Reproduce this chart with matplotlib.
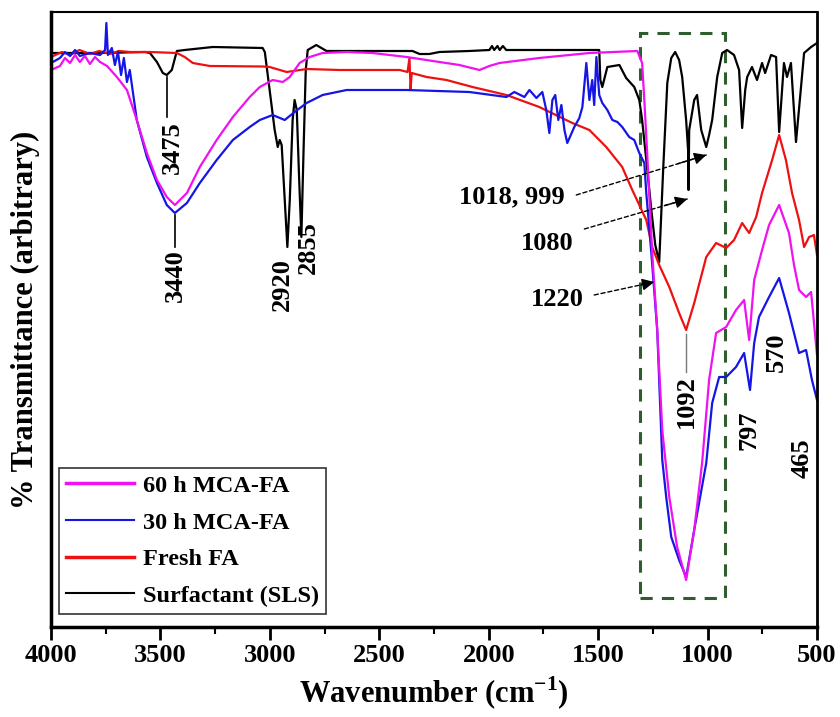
import matplotlib
matplotlib.use("Agg")
import matplotlib.pyplot as plt
from matplotlib.ticker import MultipleLocator
from matplotlib.patches import Rectangle

plt.rcParams['font.family'] = ['Liberation Serif', 'DejaVu Serif']
plt.rcParams['font.weight'] = 'bold'
plt.rcParams['mathtext.fontset'] = 'custom'
plt.rcParams['mathtext.rm'] = 'Liberation Serif:bold'
plt.rcParams['mathtext.bf'] = 'Liberation Serif:bold'

# ---------------- data (wavenumber cm-1, transmittance arbitrary) ----------------
sls_wn = [4000, 3776, 3571, 3548, 3516, 3489, 3471, 3448, 3425, 3389, 3261, 3033, 3023, 3001,
          2978, 2964, 2955, 2946, 2932, 2920, 2909, 2896, 2887, 2877, 2866, 2856, 2846, 2836,
          2827, 2788, 2741, 2348, 2316, 2271, 2225, 2089, 1997, 1985, 1975, 1960, 1950, 1935,
          1920, 1495, 1490, 1481, 1458, 1403, 1372, 1335, 1312, 1299, 1280, 1257, 1239, 1221,
          1203, 1184, 1166, 1148, 1130, 1116, 1098, 1089, 1087, 1084, 1061, 1048, 1029, 1006,
          993, 979, 956, 933, 911, 879, 856, 842, 828, 819, 797, 774, 751, 737, 710, 687, 673,
          651, 637, 619, 596, 573, 559, 527, 500]
sls_t = [61.7, 61.7, 61.8, 61.7, 60.8, 59.7, 59.5, 60.0, 61.9, 62.0, 62.3, 62.2, 61.8, 58.0,
         54.0, 52.3, 53.0, 52.5, 47.0, 42.3, 47.0, 55.0, 57.0, 56.0, 49.0, 43.3, 52.0, 60.0,
         62.0, 62.5, 61.9, 61.9, 61.6, 61.6, 61.8, 61.9, 62.0, 62.4, 62.0, 62.4, 62.0, 62.4,
         62.0, 62.0, 59.0, 58.3, 60.3, 60.5, 59.2, 58.3, 57.0, 55.0, 51.0, 46.0, 42.5, 40.8,
         50.0, 58.7, 61.2, 61.8, 61.0, 59.3, 55.0, 52.0, 48.0, 54.0, 57.0, 57.5, 54.0, 52.3,
         53.5, 55.0, 59.3, 61.7, 62.0, 61.5, 60.0, 54.2, 58.0, 59.3, 60.3, 59.0, 60.7, 59.7,
         61.5, 61.3, 53.8, 60.7, 59.3, 60.7, 52.8, 58.3, 61.7, 62.3, 62.7]

fa_wn = [4000, 3950, 3913, 3870, 3822, 3780, 3731, 3690, 3640, 3548, 3425, 3389, 3352, 3274,
         3033, 3001, 2923, 2832, 2681, 2407, 2371, 2362, 2357, 2352, 2284, 2193, 2074, 1919,
         1769, 1618, 1540, 1463, 1390, 1344, 1280, 1253, 1221, 1175, 1130, 1098, 1061, 1006,
         961, 915, 879, 842, 810, 778, 751, 705, 673, 642, 614, 582, 559, 536, 514, 500]
fa_t = [61.3, 61.8, 61.5, 62.0, 61.6, 61.9, 61.6, 61.9, 61.8, 61.8, 61.7, 61.3, 60.7, 60.4,
        60.35, 60.3, 59.8, 60.1, 60.0, 60.0, 59.8, 61.2, 58.0, 59.7, 59.3, 59.0, 58.3, 57.5,
        56.3, 54.7, 54.0, 52.3, 50.3, 48.0, 45.0, 42.3, 40.5, 38.3, 35.7, 34.0, 36.7, 41.3,
        42.7, 42.2, 43.0, 44.7, 43.7, 45.3, 47.7, 51.0, 53.5, 51.0, 47.7, 45.0, 42.3, 43.3,
        43.5, 41.5]

mca30_wn = [4000, 3959, 3936, 3913, 3890, 3868, 3822, 3776, 3753, 3747, 3740, 3722, 3708,
            3694, 3680, 3667, 3653, 3640, 3608, 3562, 3516, 3471, 3434, 3379, 3320, 3243,
            3169, 3092, 3046, 2987, 2932, 2887, 2832, 2759, 2649, 2375, 2089, 1919, 1883,
            1837, 1814, 1782, 1755, 1737, 1723, 1709, 1696, 1682, 1668, 1654, 1641, 1609,
            1586, 1572, 1554, 1540, 1527, 1518, 1508, 1495, 1481, 1458, 1435, 1412, 1390,
            1358, 1335, 1312, 1289, 1280, 1257, 1230, 1207, 1189, 1166, 1130, 1098, 1061,
            1006, 979, 947, 915, 870, 833, 806, 787, 765, 719, 673, 628, 582, 550, 523, 500]
mca30_t = [60.7, 61.2, 61.8, 61.4, 62.0, 61.4, 61.7, 61.5, 62.0, 64.7, 61.5, 62.2, 60.5,
           61.8, 59.5, 61.2, 58.8, 60.0, 55.0, 51.3, 48.7, 46.5, 45.7, 46.7, 48.7, 51.0,
           53.0, 54.3, 55.0, 55.5, 55.0, 55.8, 56.7, 57.5, 58.0, 58.0, 57.8, 57.3, 57.8,
           57.3, 58.0, 57.2, 57.8, 56.0, 53.7, 57.0, 57.5, 55.0, 56.5, 54.0, 52.7, 54.3,
           55.2, 56.3, 60.7, 57.0, 59.0, 56.5, 61.3, 57.5, 56.7, 56.0, 55.0, 54.8, 54.3,
           53.3, 53.0, 51.7, 50.7, 47.7, 41.7, 34.0, 21.0, 17.3, 13.3, 11.0, 9.3, 14.0,
           20.7, 26.7, 29.3, 29.3, 30.3, 31.7, 28.0, 32.7, 35.3, 37.3, 39.2, 35.7, 31.7,
           32.0, 29.0, 27.0]

mca60_wn = [4000, 3959, 3936, 3913, 3890, 3868, 3845, 3822, 3799, 3776, 3744, 3699, 3653,
            3608, 3562, 3516, 3471, 3434, 3379, 3320, 3243, 3169, 3092, 3046, 2987, 2941,
            2909, 2864, 2818, 2759, 2649, 2531, 2375, 2225, 2134, 2042, 1997, 1951, 1769,
            1540, 1321, 1299, 1289, 1276, 1253, 1230, 1207, 1175, 1139, 1098, 1061, 1025,
            993, 961, 915, 870, 833, 810, 787, 751, 719, 673, 628, 605, 582, 550, 527, 500]
mca60_t = [60.0, 60.4, 61.2, 60.7, 61.5, 60.8, 61.4, 60.6, 61.3, 60.8, 60.4, 59.3, 58.0,
           55.0, 51.7, 49.0, 47.3, 46.5, 47.7, 50.3, 53.0, 55.3, 57.3, 58.3, 59.0, 58.8,
           59.3, 60.7, 61.3, 61.7, 61.8, 61.7, 61.3, 60.8, 60.5, 60.0, 60.4, 60.7, 61.2,
           61.7, 61.9, 60.7, 57.0, 51.7, 41.7, 34.0, 24.0, 17.3, 12.3, 9.0, 14.0, 20.7,
           29.0, 33.7, 34.3, 36.0, 37.0, 33.0, 39.0, 42.0, 44.5, 46.5, 43.7, 40.5, 38.0,
           37.3, 37.8, 31.5]

labels = ['60 h MCA-FA', '30 h MCA-FA', 'Fresh FA', 'Surfactant (SLS)']
colors = ['#f010f0', '#1515e6', '#ee1111', '#000000']

# ---------------- figure ----------------
fig = plt.figure(figsize=(8.4, 7.17), dpi=100)
ax = fig.add_axes([51/840, 1-627/717, 766/840, 615/717])

l_sls, = ax.plot(sls_wn, sls_t, color=colors[3], lw=1.6, label=labels[3])
l_fa, = ax.plot(fa_wn, fa_t, color=colors[2], lw=1.6, label=labels[2])
l_30, = ax.plot(mca30_wn, mca30_t, color=colors[1], lw=1.6, label=labels[1])
l_60, = ax.plot(mca60_wn, mca60_t, color=colors[0], lw=1.6, label=labels[0])

ax.set_xlim(4000, 500)
ax.set_ylim(4.3, 65.8)
ax.xaxis.set_major_locator(MultipleLocator(500))
ax.xaxis.set_minor_locator(MultipleLocator(250))
ax.tick_params(axis='x', which='major', direction='out', length=9, width=2, labelsize=19, pad=3)
ax.tick_params(axis='x', which='minor', direction='out', length=5, width=1.5)
ax.tick_params(axis='y', left=False, labelleft=False)
for lbl in ax.get_xticklabels():
    lbl.set_fontweight('bold')
for s in ax.spines.values():
    s.set_linewidth(1.5)
ax.spines['left'].set_linewidth(2.5)
ax.spines['bottom'].set_linewidth(2.5)
ax.spines['right'].set_linewidth(2.0)

ax.set_xlabel('Wavenumber (cm$^{\\mathbf{-1}}$)', fontsize=22, fontweight='bold', labelpad=6)
ax.set_ylabel('% Transmittance (arbitrary)', fontsize=22, fontweight='bold', labelpad=8)

# dashed highlight box
ax.add_patch(Rectangle((1309, 7.2), 920 - 1309, 63.7 - 7.2, fill=False,
                       edgecolor='#2e5e2e', lw=2.2, linestyle=(0, (4, 3))))

# rotated peak labels
rot_kw = dict(rotation=90, ha='center', va='center', fontsize=19, fontweight='bold')
ax.plot([3469, 3469], [59.3, 55.3], color='k', lw=1.2)
ax.text(3447, 52.2, '3475', **rot_kw)
ax.plot([3434, 3434], [45.5, 42.3], color='k', lw=1.2)
ax.text(3430, 39.4, '3440', **rot_kw)
ax.text(2941, 38.5, '2920', **rot_kw)
ax.text(2823, 42.2, '2855', **rot_kw)
ax.plot([1098, 1098], [33.6, 29.8], color='#777777', lw=1.0)
ax.text(1098, 26.8, '1092', **rot_kw)
ax.text(810, 24.0, '797', **rot_kw)
ax.text(687, 31.8, '570', **rot_kw)
ax.text(568, 21.2, '465', **rot_kw)

# arrow labels
def arrow_label(txt, tpos, start, tip):
    ax.text(tpos[0], tpos[1], txt, ha='center', va='center', fontsize=19, fontweight='bold')
    ax.annotate('', xy=tip, xytext=start,
                arrowprops=dict(arrowstyle='-', color='k', lw=1.0, linestyle=(0, (3, 2)),
                                shrinkA=0, shrinkB=0))
    back = (tip[0] + (start[0] - tip[0]) * 0.22, tip[1] + (start[1] - tip[1]) * 0.22)
    ax.annotate('', xy=tip, xytext=back,
                arrowprops=dict(arrowstyle='-|>', color='k', lw=1.0, mutation_scale=18,
                                shrinkA=0, shrinkB=0))

arrow_label('1018, 999', (1892, 47.3), (1600, 47.5), (1006, 51.5))
arrow_label('1080', (1732, 42.6), (1563, 44.1), (1093, 47.1))
arrow_label('1220', (1686, 37.0), (1518, 37.5), (1244, 38.8))

leg = ax.legend(handles=[l_60, l_30, l_fa, l_sls], loc='lower left',
                bbox_to_anchor=(0.0104, 0.021), borderaxespad=0, fancybox=False,
                framealpha=1, edgecolor='#333333',
                prop=dict(family='Liberation Serif', weight='bold', size=17.5),
                handlelength=2.8, handletextpad=0.35, labelspacing=0.6, borderpad=0.3)
leg.get_frame().set_linewidth(1.2)
for h, w in zip(leg.get_lines(), [2.5, 1.5, 2.5, 1.5]):
    h.set_linewidth(w)

fig.savefig('out.png', dpi=100)
